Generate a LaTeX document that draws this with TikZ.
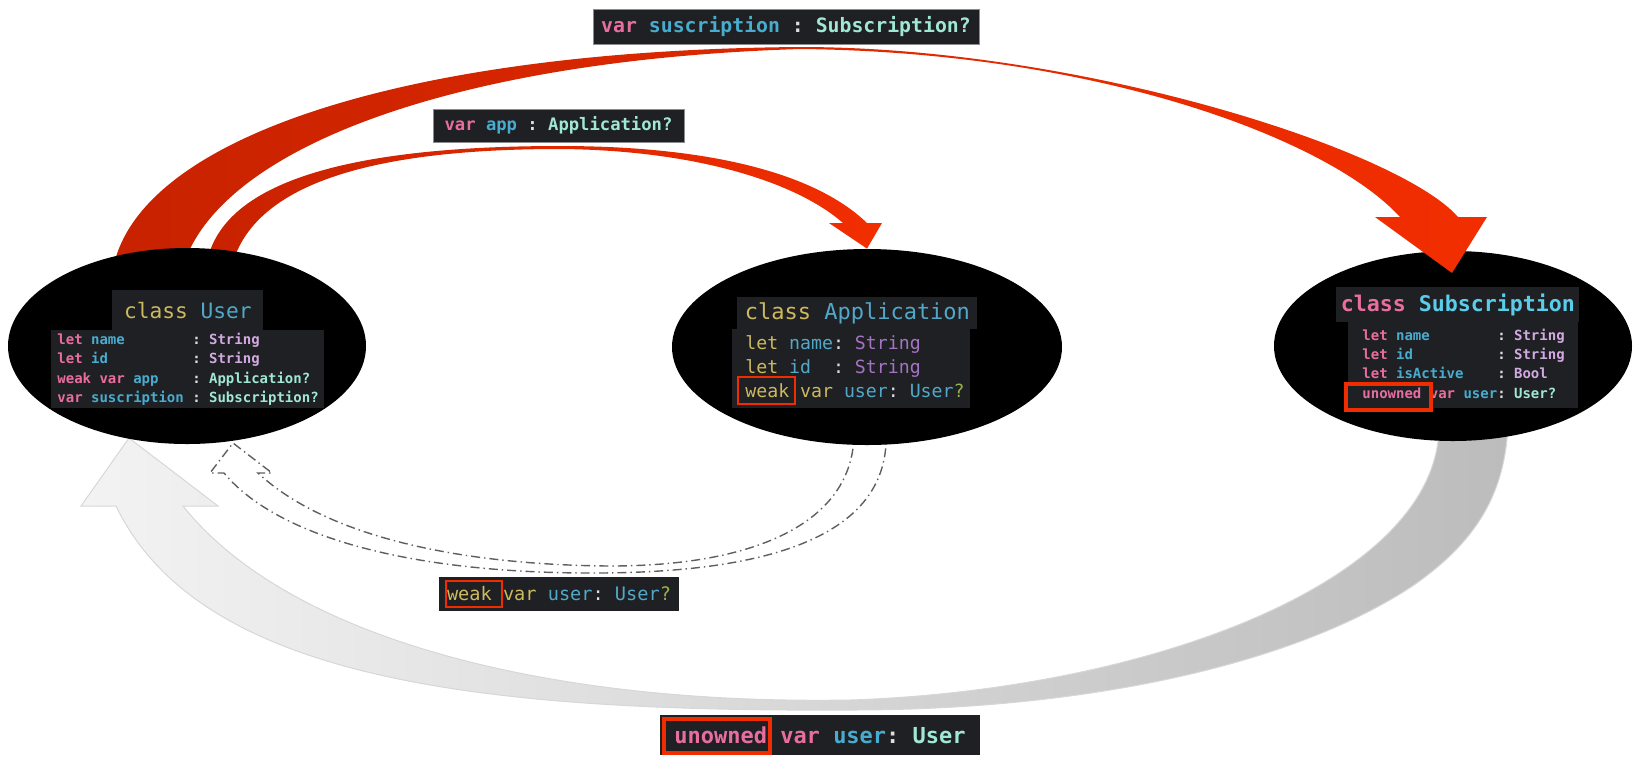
\documentclass[tikz,border=0pt]{standalone}
\usepackage{fontspec}
\usepackage{tikz}
\usetikzlibrary{shapes.geometric}
\newfontfamily\codefont{DejaVu Sans Mono}

\definecolor{codebg}{RGB}{31,32,36}
\definecolor{lblborder}{RGB}{140,140,140}
\definecolor{kwpink}{RGB}{233,110,160}
\definecolor{idcyan}{RGB}{72,172,206}
\definecolor{typemint}{RGB}{160,232,212}
\definecolor{strlav}{RGB}{210,170,225}
\definecolor{subcyan}{RGB}{90,205,235}
\definecolor{clsyellow}{RGB}{205,185,95}
\definecolor{appblue}{RGB}{82,168,200}
\definecolor{apppurple}{RGB}{165,115,195}
\definecolor{qgreen}{RGB}{150,180,70}
\definecolor{colonw}{RGB}{222,222,222}
\definecolor{hlred}{RGB}{240,45,0}
\definecolor{reddark}{RGB}{200,34,0}
\definecolor{redbright}{RGB}{242,46,0}
\definecolor{greylight}{RGB}{243,243,243}
\definecolor{greymid}{RGB}{238,238,238}
\definecolor{greydark}{RGB}{188,188,188}
\definecolor{greyedge}{RGB}{215,215,215}
\definecolor{dashgray}{RGB}{95,95,95}

\newcommand{\kwd}[1]{\textcolor{kwpink}{#1}}
\newcommand{\idt}[1]{\textcolor{idcyan}{#1}}
\newcommand{\tym}[1]{\textcolor{typemint}{#1}}
\newcommand{\tys}[1]{\textcolor{strlav}{#1}}
\newcommand{\cln}{\textcolor{colonw}{:}}
\newcommand{\yel}[1]{\textcolor{clsyellow}{#1}}
\newcommand{\blu}[1]{\textcolor{appblue}{#1}}
\newcommand{\pur}[1]{\textcolor{apppurple}{#1}}
% full width spaces inside left aligned nodes
\newcommand{\monosp}{\spaceskip=0pt\xspaceskip=0pt\relax}

\tikzset{
  blob/.style={ellipse, fill=black, inner sep=0pt},
  panel/.style={rectangle, fill=codebg, inner sep=0pt, text=colonw},
  lbl/.style={rectangle, fill=codebg, draw=lblborder, line width=0.5pt, inner sep=0pt, text=colonw},
  hlbox/.style={draw=hlred},
  weakline/.style={draw=dashgray, line width=0.7pt, dash pattern=on 4.5pt off 2pt on 0.7pt off 2pt},
}

\begin{document}
\begin{tikzpicture}[x=0.5pt,y=0.5pt,yscale=-1,xscale=1]
\useasboundingbox (0,0) rectangle (1640,768);

%Curved Arrow: Subscription -> User (grey)
\shadedraw [left color=greylight, middle color=greymid, right color=greydark, draw=greyedge, line width=0.5pt]
  (1439,425) .. controls (1440,580) and (1150,690) .. (850,700) .. controls (550,705) and (290,640) .. (183,506)
  -- (218,506) -- (129,438) -- (81,506) -- (116,506)
  .. controls (200,680) and (480,712) .. (850,710) .. controls (1100,710) and (1300,660) .. (1411,587)
  .. controls (1480,540) and (1505,490) .. (1508,425) -- cycle ;

%Curved Arrow: Application -> User (dash dot outline)
\draw [weakline]
  (886,430) .. controls (892,540) and (760,572) .. (600,573) .. controls (420,574) and (280,540) .. (224,473)
  -- (210,473) -- (233,443) -- (272,473) -- (258,473)
  .. controls (330,540) and (470,565) .. (610,566) .. controls (760,566) and (856,520) .. (854,430) ;

%Ellipses
\node [blob, minimum width=179pt, minimum height=95pt] (sub) at (1453,346) {};
\node [blob, minimum width=195pt, minimum height=98pt] (app) at (867,347) {};

%Curved Arrow: User -> Subscription (red)
\shade [left color=reddark, right color=redbright]
  (112,275) .. controls (130,140) and (400,50) .. (800,47) .. controls (1080,47) and (1400,150) .. (1458,217)
  -- (1487,217) -- (1452,273) -- (1375,217) -- (1400,217)
  .. controls (1330,140) and (1100,52) .. (800,49) .. controls (450,60) and (215,150) .. (182,270) -- cycle ;

%Curved Arrow: User -> Application (red)
\shade [left color=reddark, right color=redbright]
  (207,262) .. controls (225,172) and (380,146) .. (560,146) .. controls (700,146) and (812,170) .. (867,223)
  -- (882,223) -- (app.north) -- (829,223) -- (843,223)
  .. controls (794,180) and (690,150) .. (560,149) .. controls (400,149) and (260,174) .. (233,262) -- cycle ;

\node [blob, minimum width=179pt, minimum height=98pt] (user) at (187,346) {};

% class User
\node [panel, anchor=north west, minimum width=75.5pt, minimum height=20pt,
  font=\codefont\fontsize{10.6}{12}\selectfont] (userhead) at (112,290) {\yel{class} \blu{User}};
\node [panel, anchor=north west, minimum height=39pt, inner xsep=3pt, text width=130.5pt, align=left,
  font=\codefont\bfseries\fontsize{7}{9.75}\selectfont] (userbody) at (51,330)
  {\monosp\begin{tabular}{@{}l@{\ }l@{}}
   \kwd{let} \idt{name} & \cln\ \tys{String}\\
   \kwd{let} \idt{id} & \cln\ \tys{String}\\
   \kwd{weak var} \idt{app} & \cln\ \tym{Application?}\\
   \kwd{var} \idt{suscription} & \cln\ \tym{Subscription?}
   \end{tabular}};

% class Application
\node [panel, anchor=north west, minimum width=120pt, minimum height=16pt,
  font=\codefont\fontsize{11}{13}\selectfont] (apphead) at (737,297) {\yel{class} \blu{Application}};
\node [panel, anchor=north west, minimum height=39.5pt, inner xsep=6.5pt, text width=106pt, align=left,
  font=\codefont\fontsize{9.1}{12}\selectfont] (appbody) at (732,329)
  {\monosp\begin{tabular}{@{}l@{}}
   \yel{let} \blu{name}\cln\ \pur{String}\\
   \yel{let} \blu{id}\ \ \cln\ \pur{String}\\
   \yel{weak var} \blu{user}\cln\ \blu{User}\textcolor{qgreen}{?}
   \end{tabular}};
\draw [hlbox, line width=1pt] (738,377) rectangle (795,404) ;

% class Subscription
\node [panel, anchor=north west, minimum width=121.5pt, minimum height=17.5pt,
  font=\codefont\bfseries\fontsize{10.8}{13}\selectfont] (subhead) at (1336,287)
  {\kwd{class} \textcolor{subcyan}{Subscription}};
\node [panel, anchor=north west, minimum height=43pt, inner xsep=7pt, text width=101pt, align=left,
  font=\codefont\bfseries\fontsize{7}{9.65}\selectfont] (subbody) at (1348,322)
  {\monosp\begin{tabular}{@{}l@{}l@{}}
   \kwd{let} \idt{name} & \cln\ \tys{String}\\
   \kwd{let} \idt{id} & \cln\ \tys{String}\\
   \kwd{let} \idt{isActive} & \cln\ \tys{Bool}\\
   \kwd{unowned var} \idt{user} & \cln\ \tym{User?}
   \end{tabular}};
\draw [hlbox, line width=2pt] (1346,384) rectangle (1431,410) ;

% Text Node
\node [lbl, minimum width=193pt, minimum height=17.5pt,
  font=\codefont\bfseries\fontsize{9.9}{12}\selectfont] (sublbl) at (786,26.5)
  {\kwd{var} \idt{suscription} \cln\ \tym{Subscription?}};
% Text Node
\node [lbl, minimum width=125.5pt, minimum height=16.5pt,
  font=\codefont\bfseries\fontsize{8.6}{10}\selectfont] (applbl) at (558.5,125.5)
  {\kwd{var} \idt{app} \cln\ \tym{Application?}};
% Text Node
\node [panel, minimum width=120pt, minimum height=17pt,
  font=\codefont\fontsize{9.3}{11}\selectfont] (weaklbl) at (559,594)
  {\yel{weak} \yel{var} \blu{user}\cln\ \blu{User}\textcolor{qgreen}{?}};
\draw [hlbox, line width=1pt] (446,581) rectangle (502,607) ;
% Text Node
\node [panel, minimum width=160pt, minimum height=20pt,
  font=\codefont\bfseries\fontsize{11}{13}\selectfont] (ownlbl) at (820,735)
  {\kwd{unowned var} \idt{user}\cln\ \tym{User}};
\draw [hlbox, line width=2pt] (664,719) rectangle (770,753) ;

\end{tikzpicture}
\end{document}
